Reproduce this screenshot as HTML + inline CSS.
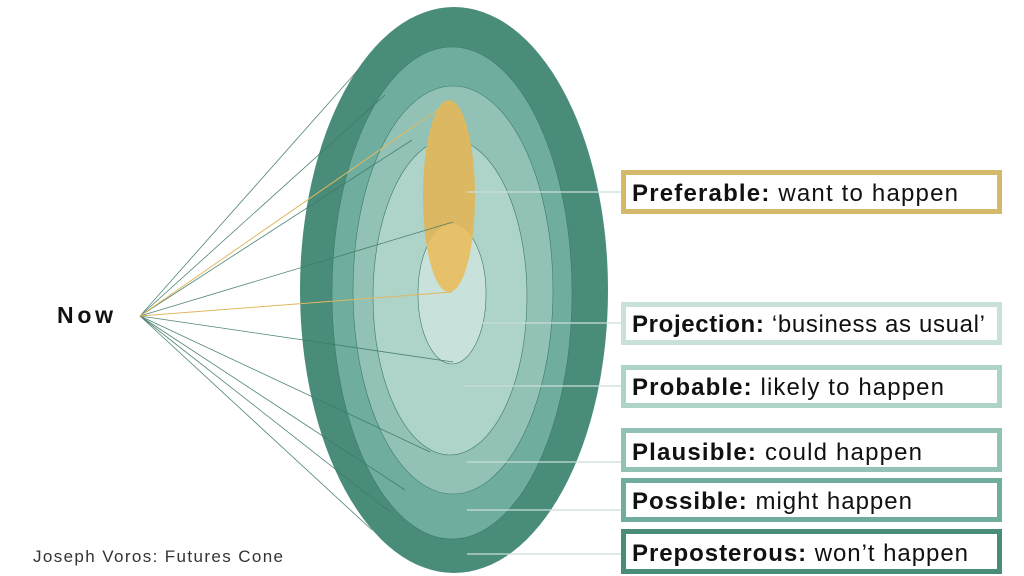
<!DOCTYPE html>
<html><head><style>
body{margin:0;background:#fff;}
svg{display:block;font-family:"Liberation Sans",sans-serif;}
</style></head><body>
<svg width="1024" height="576" viewBox="0 0 1024 576">
<ellipse cx="454" cy="290" rx="154" ry="283" fill="#4a8c7a"/>
<ellipse cx="452" cy="293" rx="120" ry="246" fill="#6fae9e" stroke="#3e7868" stroke-width="0.6"/>
<ellipse cx="453" cy="290" rx="100" ry="204" fill="#91c2b5" stroke="#3e7868" stroke-width="0.6"/>
<ellipse cx="450" cy="297" rx="77" ry="158" fill="#aed3c9" stroke="#3e7868" stroke-width="0.6"/>
<ellipse cx="452" cy="294" rx="34" ry="70" fill="#c8e2db" stroke="#3e7868" stroke-width="0.6"/>
<ellipse cx="449" cy="196" rx="26" ry="96" fill="#dcb862"/>
<clipPath id="c"><ellipse cx="452" cy="294" rx="34" ry="70"/></clipPath>
<ellipse cx="449" cy="196" rx="26" ry="96" fill="#e6c16a" clip-path="url(#c)"/>
<g stroke="#3e7868" stroke-width="0.8" fill="none" opacity="0.9">
<line x1="140" y1="316" x2="358" y2="70"/>
<line x1="140" y1="316" x2="385" y2="95"/>
<line x1="140" y1="316" x2="412" y2="140"/>
<line x1="140" y1="316" x2="453" y2="222"/>
<line x1="140" y1="316" x2="453" y2="362"/>
<line x1="140" y1="316" x2="430" y2="452"/>
<line x1="140" y1="316" x2="405" y2="490"/>
<line x1="140" y1="316" x2="390" y2="512"/>
<line x1="140" y1="316" x2="372" y2="530"/>
</g>
<g stroke="#e0b860" stroke-width="1" fill="none">
<line x1="140" y1="316" x2="446" y2="104"/>
<line x1="140" y1="316" x2="452" y2="292"/>
</g>
<g stroke="#c9ddd8" stroke-width="1.2">
<line x1="467" y1="192" x2="621" y2="192"/>
<line x1="480" y1="323" x2="621" y2="323"/>
<line x1="464" y1="386" x2="621" y2="386"/>
<line x1="467" y1="462" x2="621" y2="462"/>
<line x1="467" y1="510" x2="621" y2="510"/>
<line x1="467" y1="554" x2="621" y2="554"/>
</g>
<g fill="#fff" stroke-width="5">
<rect x="623.5" y="172.5" width="376" height="39" stroke="#d4b96a"/>
<rect x="623.5" y="304.5" width="376" height="38" stroke="#c8e2db"/>
<rect x="623.5" y="367.5" width="376" height="38" stroke="#aed3c9"/>
<rect x="623.5" y="430.5" width="376" height="39" stroke="#91c2b5"/>
<rect x="623.5" y="480.5" width="376" height="39" stroke="#6fae9e"/>
<rect x="623.5" y="531.5" width="376" height="40" stroke="#4a8c7a"/>
</g>
<g font-size="24" fill="#111">
<text x="632" y="201" textLength="326" lengthAdjust="spacing"><tspan font-weight="bold">Preferable:</tspan> want to happen</text>
<text x="632" y="332" textLength="353" lengthAdjust="spacing"><tspan font-weight="bold">Projection:</tspan> ‘business as usual’</text>
<text x="632" y="395" textLength="312" lengthAdjust="spacing"><tspan font-weight="bold">Probable:</tspan> likely to happen</text>
<text x="632" y="460" textLength="290" lengthAdjust="spacing"><tspan font-weight="bold">Plausible:</tspan> could happen</text>
<text x="632" y="509" textLength="280" lengthAdjust="spacing"><tspan font-weight="bold">Possible:</tspan> might happen</text>
<text x="632" y="561" textLength="336" lengthAdjust="spacing"><tspan font-weight="bold">Preposterous:</tspan> won’t happen</text>
</g>
<text x="57" y="323" font-size="23" font-weight="bold" fill="#111" textLength="56" lengthAdjust="spacing">Now</text>
<text x="33" y="562" font-size="17" fill="#333" textLength="250" lengthAdjust="spacing">Joseph Voros: Futures Cone</text>
</svg>
</body></html>
